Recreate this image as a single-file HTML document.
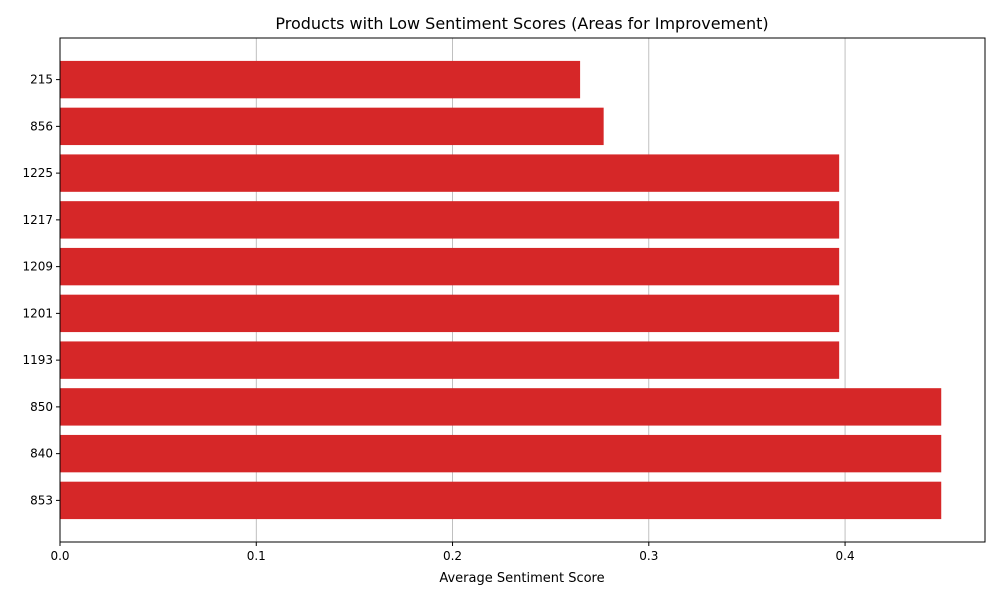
<!DOCTYPE html>
<html><head><meta charset="utf-8"><style>
body{margin:0;background:#fff;font-family:"Liberation Sans","DejaVu Sans",sans-serif}
</style></head><body>
<svg id="chart" width="1000" height="600" xmlns="http://www.w3.org/2000/svg" font-family="DejaVu Sans, Liberation Sans, sans-serif">
<text x="522" y="29" text-anchor="middle" font-size="16">Products with Low Sentiment Scores (Areas for Improvement)</text>
<text x="522" y="582" text-anchor="middle" font-size="13">Average Sentiment Score</text>
<g id="grid"></g><g id="bars"></g><g id="ticks"></g>
<rect x="60" y="38" width="925" height="504" fill="none" stroke="#000" stroke-width="1"/>
</svg>
<script>
const categories=["215","856","1225","1217","1209","1201","1193","850","840","853"];
const values=[0.265,0.277,0.397,0.397,0.397,0.397,0.397,0.449,0.449,0.449];
const xTicks=[0,0.1,0.2,0.3,0.4];
const xTickLabels=["0.0","0.1","0.2","0.3","0.4"];
const NS="http://www.w3.org/2000/svg";
const L=60,T=38,B=542,xMax=0.4713,W=925;
const x=v=>L+v/xMax*W;
const n=categories.length;
const span=(n-1)+0.8+0.1*((n-1)+0.8);
const step=(B-T)/span;
const y=i=>T+step*(0.4+0.05*((n-1)+0.8))+i*step;
function mk(t,a){const e=document.createElementNS(NS,t);for(const k in a)e.setAttribute(k,a[k]);return e;}
const g=document.getElementById('grid'),bg=document.getElementById('bars'),tg=document.getElementById('ticks');
xTicks.forEach((v,i)=>{
 const l=mk('line',{x1:x(v),x2:x(v),y1:T,y2:B,stroke:'#b0b0b0','stroke-width':0.8});
 
 
 g.appendChild(l);
 const tk=mk('line',{x1:x(v),x2:x(v),y1:B,y2:B+4,stroke:'#000'});
 
 
 tg.appendChild(tk);
 const t=mk('text',{x:x(v),y:B+18,'text-anchor':'middle','font-size':12});
 t.textContent=xTickLabels[i];
 
 
 tg.appendChild(t);
});
categories.forEach((c,i)=>{
 const h=step*0.8;
 const r=mk('rect',{x:L,y:y(i)-h/2,width:x(values[i])-L,height:h,fill:'#d62728'});
 
 
 bg.appendChild(r);
 const tk=mk('line',{x1:L-4,x2:L,y1:y(i),y2:y(i),stroke:'#000'});
 
 
 tg.appendChild(tk);
 const t=mk('text',{x:L-7,y:y(i)+4,'text-anchor':'end','font-size':12});
 t.textContent=c;
 
 
 tg.appendChild(t);
});
</script>
</body></html>
